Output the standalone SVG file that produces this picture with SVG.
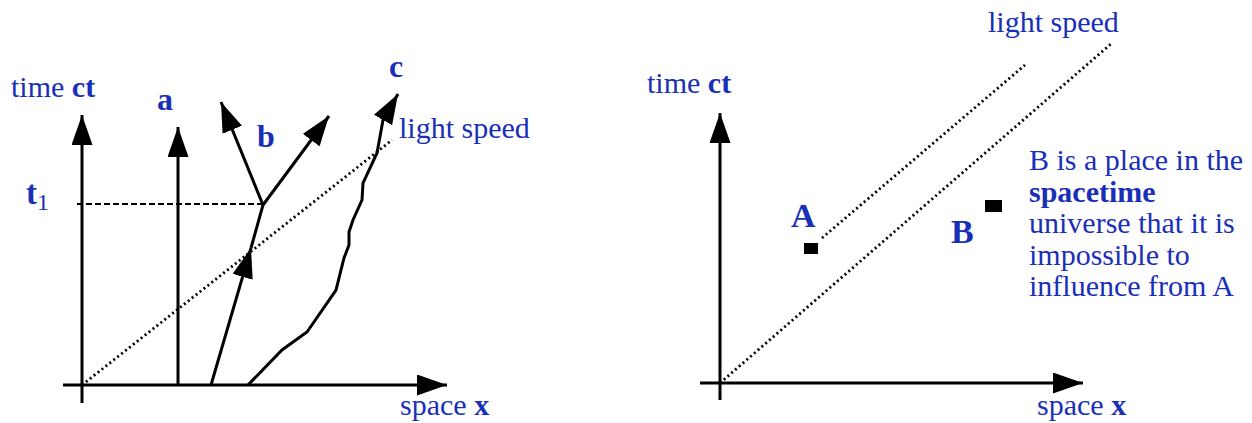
<svg xmlns="http://www.w3.org/2000/svg" width="1252" height="423" viewBox="0 0 1252 423">
<style>
text{font-family:'Liberation Serif','Times New Roman','DejaVu Serif',serif;fill:#1a2fb8;font-size:30px}
.b{font-weight:bold}
.ln{stroke:#000;stroke-width:3;fill:none}
.dash{stroke:#000;stroke-width:2.2;fill:none;stroke-dasharray:6,3}
.dot{stroke:#000;stroke-width:2.8;fill:none;stroke-dasharray:2,3}
</style>
<defs>
<marker id="ah" viewBox="0 0 30 21" refX="30" refY="10.5" markerWidth="30" markerHeight="21" markerUnits="userSpaceOnUse" orient="auto">
<path d="M0,0 L30,10.5 L0,21 z" fill="#000"/>
</marker>
</defs>
<rect width="1252" height="423" fill="#fff"/>

<g id="connectors">
<line class="ln" x1="82" y1="403" x2="82" y2="115" marker-end="url(#ah)"/>
<line class="ln" x1="63" y1="385" x2="447" y2="385" marker-end="url(#ah)"/>
<line class="dot" x1="82" y1="385" x2="392" y2="140"/>
<line class="dash" x1="77" y1="204" x2="263" y2="204"/>
<line class="ln" x1="178" y1="385" x2="178" y2="127" marker-end="url(#ah)"/>
<line class="ln" x1="211" y1="385" x2="251" y2="248" marker-end="url(#ah)"/>
<line class="ln" x1="251" y1="248" x2="263" y2="205"/>
<line class="ln" x1="263" y1="205" x2="221" y2="102" marker-end="url(#ah)"/>
<line class="ln" x1="263" y1="205" x2="329" y2="116" marker-end="url(#ah)"/>
<path class="ln" d="M248,385 L282,350 L307,332 L336,290 L344,258 L349,245 L349,232 L353,220 L362,200 L363,183 L377,153 L383,120 L398,94" marker-end="url(#ah)"/>
<line class="ln" x1="720" y1="400" x2="720" y2="113" marker-end="url(#ah)"/>
<line class="ln" x1="700" y1="383" x2="1083" y2="383" marker-end="url(#ah)"/>
<line class="dot" x1="720" y1="383" x2="1112" y2="43"/>
<line class="dot" x1="822" y1="238" x2="1025" y2="65"/>
</g>

<g id="left-labels">
<text x="11" y="97">time <tspan class="b">ct</tspan></text>
<text x="400" y="415">space <tspan class="b">x</tspan></text>
<text x="399" y="138">light speed</text>
<text class="b" x="26" y="204" style="font-size:33px">t<tspan style="font-weight:normal;font-size:24px" dy="6">1</tspan></text>
<text class="b" x="157" y="110" style="font-size:32px">a</text>
<text class="b" x="257" y="147" style="font-size:32px">b</text>
<text class="b" x="389" y="77" style="font-size:32px">c</text>
</g>

<g id="node-A">
<rect x="804" y="243" width="14" height="11" fill="#000"/>
<text class="b" x="791" y="227" style="font-size:34px">A</text>
</g>
<g id="node-B">
<rect x="985" y="200" width="17" height="12" fill="#000"/>
<text class="b" x="951" y="243" style="font-size:34px">B</text>
</g>

<g id="right-labels">
<text x="647" y="93">time <tspan class="b">ct</tspan></text>
<text x="1037" y="415">space <tspan class="b">x</tspan></text>
<text x="988" y="32">light speed</text>
<text x="1029" y="170">B is a place in the</text>
<text class="b" x="1029" y="202">spacetime</text>
<text x="1029" y="233">universe that it is</text>
<text x="1029" y="265">impossible to</text>
<text x="1029" y="296">influence from A</text>
</g>
</svg>
